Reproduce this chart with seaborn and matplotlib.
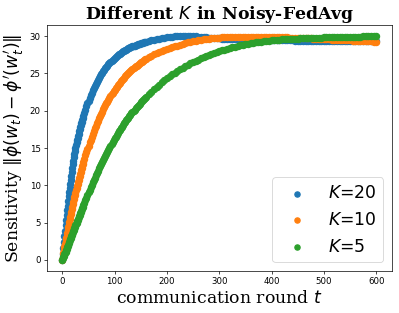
import matplotlib
matplotlib.use("Agg")
import matplotlib.pyplot as plt
import seaborn as sns
import pandas as pd

# communication rounds at which the sensitivity was recorded
rounds = list(range(0, 41)) + list(range(42, 161, 2)) + list(range(165, 601, 5))

sens_k20 = [
    0.00, 0.82, 1.62, 2.40, 3.15, 3.89, 4.61, 5.30, 5.98, 6.64,
    7.28, 7.90, 8.50, 9.09, 9.66, 10.22, 10.76, 11.29, 11.80, 12.30,
    12.79, 13.26, 13.72, 14.16, 14.60, 15.02, 15.43, 15.74, 16.05, 16.35,
    16.64, 16.93, 17.21, 17.49, 17.76, 18.02, 18.28, 18.53, 18.78, 19.02,
    19.25,
    19.71, 20.15, 20.57, 20.97, 21.35, 21.72, 22.07, 22.41, 22.73, 23.04,
    23.34, 23.62, 23.89, 24.15, 24.40, 24.64, 24.87, 25.09, 25.30, 25.50,
    25.69, 25.87, 26.05, 26.21, 26.38, 26.53, 26.68, 26.82, 26.95, 27.08,
    27.21, 27.33, 27.44, 27.55, 27.65, 27.75, 27.85, 27.94, 28.03, 28.11,
    28.19, 28.27, 28.34, 28.41, 28.48, 28.55, 28.61, 28.67, 28.72, 28.78,
    28.83, 28.88, 28.93, 28.97, 29.02, 29.06, 29.10, 29.14, 29.17, 29.21,
    29.32, 29.42, 29.51, 29.59, 29.66, 29.73, 29.79, 29.84, 29.88, 29.92,
    29.95, 29.97, 29.99, 30.00, 30.00, 30.00, 29.99, 29.97, 29.95, 29.92,
    29.89, 29.86, 29.82, 29.79, 29.76, 29.73, 29.70, 29.68, 29.66, 29.64,
    29.62, 29.60, 29.59, 29.57, 29.56, 29.55, 29.54, 29.53, 29.52, 29.51,
    29.50, 29.49, 29.48, 29.47, 29.47, 29.46, 29.45, 29.45, 29.44, 29.44,
    29.43, 29.43, 29.42, 29.42, 29.41, 29.41, 29.40, 29.40, 29.39, 29.39,
    29.38, 29.38, 29.37, 29.37, 29.36, 29.36, 29.35, 29.35, 29.34, 29.34,
    29.34, 29.33, 29.33, 29.32, 29.32, 29.32, 29.31, 29.31, 29.31, 29.30,
    29.30, 29.30, 29.29, 29.29, 29.29, 29.28, 29.28, 29.28,
]

sens_k10 = [
    0.00, 0.43, 0.85, 1.26, 1.67, 2.07, 2.46, 2.86, 3.24, 3.62,
    3.99, 4.36, 4.73, 5.09, 5.44, 5.79, 6.13, 6.47, 6.80, 7.13,
    7.46, 7.78, 8.09, 8.40, 8.71, 9.01, 9.31, 9.60, 9.89, 10.18,
    10.46, 10.73, 11.01, 11.28, 11.54, 11.80, 12.06, 12.32, 12.57, 12.82,
    13.06,
    13.54, 14.00, 14.45, 14.89, 15.31, 15.73, 16.13, 16.52, 16.90, 17.27,
    17.63, 17.98, 18.32, 18.65, 18.96, 19.28, 19.58, 19.87, 20.16, 20.43,
    20.70, 20.96, 21.22, 21.47, 21.71, 21.94, 22.17, 22.39, 22.60, 22.81,
    23.01, 23.21, 23.40, 23.59, 23.77, 23.94, 24.11, 24.28, 24.44, 24.60,
    24.75, 24.90, 25.04, 25.18, 25.32, 25.45, 25.58, 25.70, 25.82, 25.94,
    26.05, 26.17, 26.27, 26.38, 26.48, 26.58, 26.68, 26.77, 26.86, 26.95,
    27.16, 27.36, 27.54, 27.71, 27.87, 28.01, 28.15, 28.28, 28.40, 28.51,
    28.62, 28.73, 28.84, 28.95, 29.05, 29.15, 29.23, 29.31, 29.38, 29.45,
    29.51, 29.57, 29.62, 29.67, 29.71, 29.75, 29.78, 29.80, 29.82, 29.84,
    29.85, 29.86, 29.87, 29.88, 29.89, 29.89, 29.90, 29.90, 29.90, 29.90,
    29.90, 29.90, 29.90, 29.90, 29.89, 29.89, 29.88, 29.88, 29.87, 29.86,
    29.85, 29.84, 29.83, 29.82, 29.80, 29.79, 29.77, 29.76, 29.74, 29.73,
    29.71, 29.69, 29.68, 29.66, 29.64, 29.62, 29.61, 29.59, 29.57, 29.55,
    29.54, 29.52, 29.50, 29.49, 29.47, 29.45, 29.44, 29.42, 29.40, 29.39,
    29.37, 29.35, 29.34, 29.32, 29.30, 29.29, 29.27, 29.25,
]

sens_k5 = [
    0.00, 0.19, 0.37, 0.56, 0.74, 0.93, 1.11, 1.30, 1.48, 1.67,
    1.85, 2.04, 2.22, 2.41, 2.59, 2.78, 2.96, 3.15, 3.33, 3.52,
    3.70, 3.88, 4.06, 4.24, 4.42, 4.60, 4.78, 4.96, 5.14, 5.32,
    5.50, 5.68, 5.86, 6.04, 6.22, 6.40, 6.58, 6.76, 6.94, 7.12,
    7.30,
    7.65, 8.00, 8.35, 8.70, 9.05, 9.38, 9.71, 10.04, 10.37, 10.70,
    11.01, 11.32, 11.63, 11.94, 12.25, 12.54, 12.83, 13.12, 13.41, 13.70,
    13.97, 14.24, 14.51, 14.78, 15.05, 15.30, 15.55, 15.80, 16.05, 16.30,
    16.53, 16.76, 16.99, 17.22, 17.45, 17.66, 17.87, 18.08, 18.29, 18.50,
    18.69, 18.88, 19.07, 19.26, 19.45, 19.62, 19.79, 19.96, 20.13, 20.30,
    20.46, 20.62, 20.78, 20.94, 21.10, 21.25, 21.40, 21.55, 21.70, 21.85,
    22.20, 22.55, 22.88, 23.20, 23.50, 23.80, 24.08, 24.35, 24.60, 24.85,
    25.08, 25.30, 25.53, 25.75, 25.95, 26.15, 26.33, 26.50, 26.68, 26.85,
    27.00, 27.15, 27.30, 27.45, 27.58, 27.70, 27.83, 27.95, 28.08, 28.20,
    28.30, 28.40, 28.50, 28.60, 28.68, 28.75, 28.83, 28.90, 28.98, 29.05,
    29.10, 29.15, 29.20, 29.25, 29.30, 29.35, 29.39, 29.42, 29.46, 29.50,
    29.52, 29.55, 29.57, 29.59, 29.61, 29.63, 29.65, 29.66, 29.68, 29.70,
    29.71, 29.73, 29.74, 29.76, 29.77, 29.78, 29.80, 29.81, 29.82, 29.83,
    29.84, 29.85, 29.86, 29.87, 29.88, 29.89, 29.90, 29.91, 29.92, 29.92,
    29.93, 29.94, 29.95, 29.96, 29.97, 29.98, 29.99, 30.00,
]

labels = ["$K$=20", "$K$=10", "$K$=5"]
series = [sens_k20, sens_k10, sens_k5]
colors = ["#1f77b4", "#ff7f0e", "#2ca02c"]

DPI = 62.35
fig = plt.figure(figsize=(399 / DPI + 0.002, 313 / DPI + 0.002), dpi=DPI)
ax = fig.add_axes([0.117, 0.1342, 0.9817 - 0.117, 0.9201 - 0.1342])

for lab, vals, col in zip(labels, series, colors):
    df = pd.DataFrame({"round": rounds, "sens": vals})
    sns.scatterplot(data=df, x="round", y="sens", ax=ax, s=50, color=col,
                    edgecolor=col, linewidth=1.5, label=lab)

ax.set_title("Different $K$ in Noisy-FedAvg", fontsize=20, family="serif",
             fontweight="bold")
ax.set_xlabel("communication round $t$", fontsize=20, family="serif")
ax.set_ylabel(r"Sensitivity $\Vert\phi(w_t)-\phi'(w_t')\Vert$", fontsize=20,
              family="serif")
ax.set_xticks([0, 100, 200, 300, 400, 500, 600])
ax.set_yticks([0, 5, 10, 15, 20, 25, 30])
ax.tick_params(labelsize=10)
ax.legend(loc="lower right", fontsize=20, markerscale=0.85)

fig.savefig("out.png", dpi=DPI)
